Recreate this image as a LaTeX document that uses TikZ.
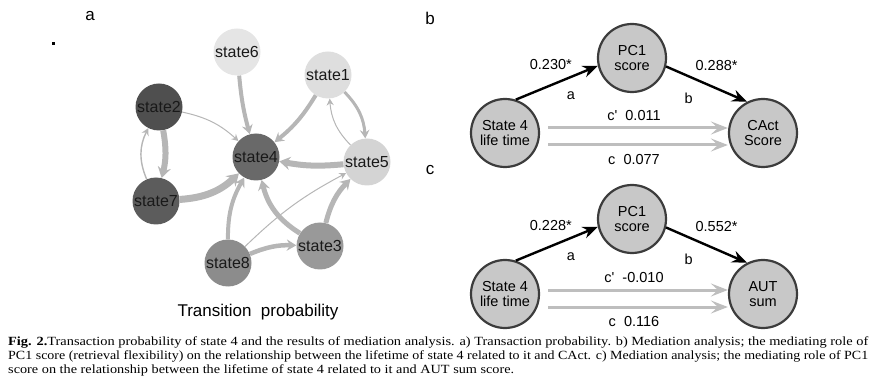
\documentclass[tikz,border=0pt]{standalone}
\usepackage{fontspec}
\usepackage{graphicx}
\setmainfont{Liberation Serif}
\newfontfamily\arialfont{Liberation Sans}
\usetikzlibrary{arrows.meta}

\definecolor{edgegrey}{HTML}{B6B6B6}
\definecolor{directgrey}{HTML}{BEBEBE}
\definecolor{medfill}{HTML}{C8C8C8}
\definecolor{medline}{HTML}{3C3C3C}

\tikzset{
  state/.style={circle,minimum size=47pt,inner sep=0pt,text=black!90,
    font=\arialfont\fontsize{16}{16}\selectfont},
  tr/.style={draw=edgegrey,line width=#1,
    -{Stealth[length=6pt 0.8,width=6pt 1.2,inset=2pt 0.3]}},
  medbox/.style={circle,draw=medline,line width=2.2pt,fill=medfill,
    minimum size=68pt,inner sep=0pt,align=center,
    font=\arialfont\fontsize{14.5}{15}\selectfont},
  path/.style={draw=black,line width=2.4pt,
    -{Stealth[length=15pt,width=12pt,inset=5pt]}},
  direct/.style={draw=directgrey,line width=3pt,
    -{Stealth[length=17pt,width=13pt,inset=7pt]}},
  lab/.style={font=\arialfont\fontsize{14.5}{14.5}\selectfont},
  panel/.style={font=\arialfont\fontsize{17}{17}\selectfont},
  capline/.style={anchor=base west,inner sep=0pt,font=\fontsize{12.5}{14}\selectfont}
}

\begin{document}
\begin{tikzpicture}[x=1pt,y=-1pt]
  \useasboundingbox (0,0) rectangle (875,387);

  % a) transition network
  \node[panel] (pa) at (90,16) {a};
  \fill[black] (52,42) rectangle (55,45);
  \node[state,fill=black!10] (s6) at (237,52) {state6};
  \node[state,fill=black!13] (s1) at (328,75) {state1};
  \node[state,fill=black!69] (s2) at (159,107) {state2};
  \node[state,fill=black!59] (s4) at (256,157) {state4};
  \node[state,fill=black!17] (s5) at (367,162) {state5};
  \node[state,fill=black!64] (s7) at (156,201) {state7};
  \node[state,fill=black!40] (s3) at (320,246) {state3};
  \node[state,fill=black!45] (s8) at (228,263) {state8};
  \foreach \a/\b/\w/\bend in {s6/s4/4/-5, s1/s4/4/10, s1/s5/3/20, s5/s1/1/20,
      s2/s4/1/15, s2/s7/6/12, s7/s2/1.4/25, s7/s4/7/-20, s5/s4/6/8,
      s8/s5/1/8, s3/s4/5/22, s8/s4/4/15, s8/s3/4.5/12, s3/s5/5/15} {
      \draw[tr=\w] (\a) to[bend left=\bend] (\b);
    }
  \node[panel] (tp) at (258,312) {Transition\ \ probability};

  % b) mediation, CAct
  \begin{scope}[shift={(0,0)}]
    \node[panel] (pb) at (430,18) {b};
    \node[medbox] (xb) at (505,133) {State 4\\life time};
    \node[medbox] (mb) at (632,58) {PC1\\score};
    \node[medbox] (yb) at (763,133) {CAct\\Score};
    \draw[path] (xb.72) -- (mb.193)
      node[lab,midway,above=9pt,xshift=-6pt] {0.230*}
      node[lab,midway,below=4pt,xshift=14pt] {a};
    \draw[path] (mb.-14) -- (yb.117)
      node[lab,midway,above=9pt,xshift=10pt] {0.288*}
      node[lab,midway,below=4pt,xshift=-18pt] {b};
    \draw[direct,shorten <=8pt] ([yshift=5pt]xb.east) -- ([yshift=5pt]yb.west)
      node[lab,midway,above=3pt] {c'\ \ 0.011};
    \draw[direct,shorten <=8pt] ([yshift=-12pt]xb.east) -- ([yshift=-12pt]yb.west)
      node[lab,midway,below=5pt] {c\ \ 0.077};
  \end{scope}

  % c) mediation, AUT
  \begin{scope}[shift={(0,161)}]
    \node[panel] (pc) at (430,9) {c};
    \node[medbox] (xc) at (505,133) {State 4\\life time};
    \node[medbox] (mc) at (632,58) {PC1\\score};
    \node[medbox] (yc) at (763,133) {AUT\\sum};
    \draw[path] (xc.72) -- (mc.193)
      node[lab,midway,above=9pt,xshift=-6pt] {0.228*}
      node[lab,midway,below=4pt,xshift=14pt] {a};
    \draw[path] (mc.-14) -- (yc.117)
      node[lab,midway,above=9pt,xshift=10pt] {0.552*}
      node[lab,midway,below=4pt,xshift=-18pt] {b};
    \draw[direct,shorten <=8pt] ([yshift=4pt]xc.east) -- ([yshift=4pt]yc.west)
      node[lab,midway,above=3pt] {c'\ \ -0.010};
    \draw[direct,shorten <=8pt] ([yshift=-13pt]xc.east) -- ([yshift=-13pt]yc.west)
      node[lab,midway,below=5pt] {c\ \ 0.116};
  \end{scope}

  % caption
  \node[capline] (cap1) at (8,345)
    {\resizebox{860pt}{\height}{\textbf{Fig. 2.}Transaction probability of state 4 and the results of mediation analysis. a) Transaction probability. b) Mediation analysis; the mediating role of}};
  \node[capline] (cap2) at (8,359)
    {\resizebox{860pt}{\height}{PC1 score (retrieval flexibility) on the relationship between the lifetime of state 4 related to it and CAct. c) Mediation analysis; the mediating role of PC1}};
  \node[capline] (cap3) at (8,373)
    {\resizebox{506pt}{\height}{score on the relationship between the lifetime of state 4 related to it and AUT sum score.}};
\end{tikzpicture}
\end{document}
